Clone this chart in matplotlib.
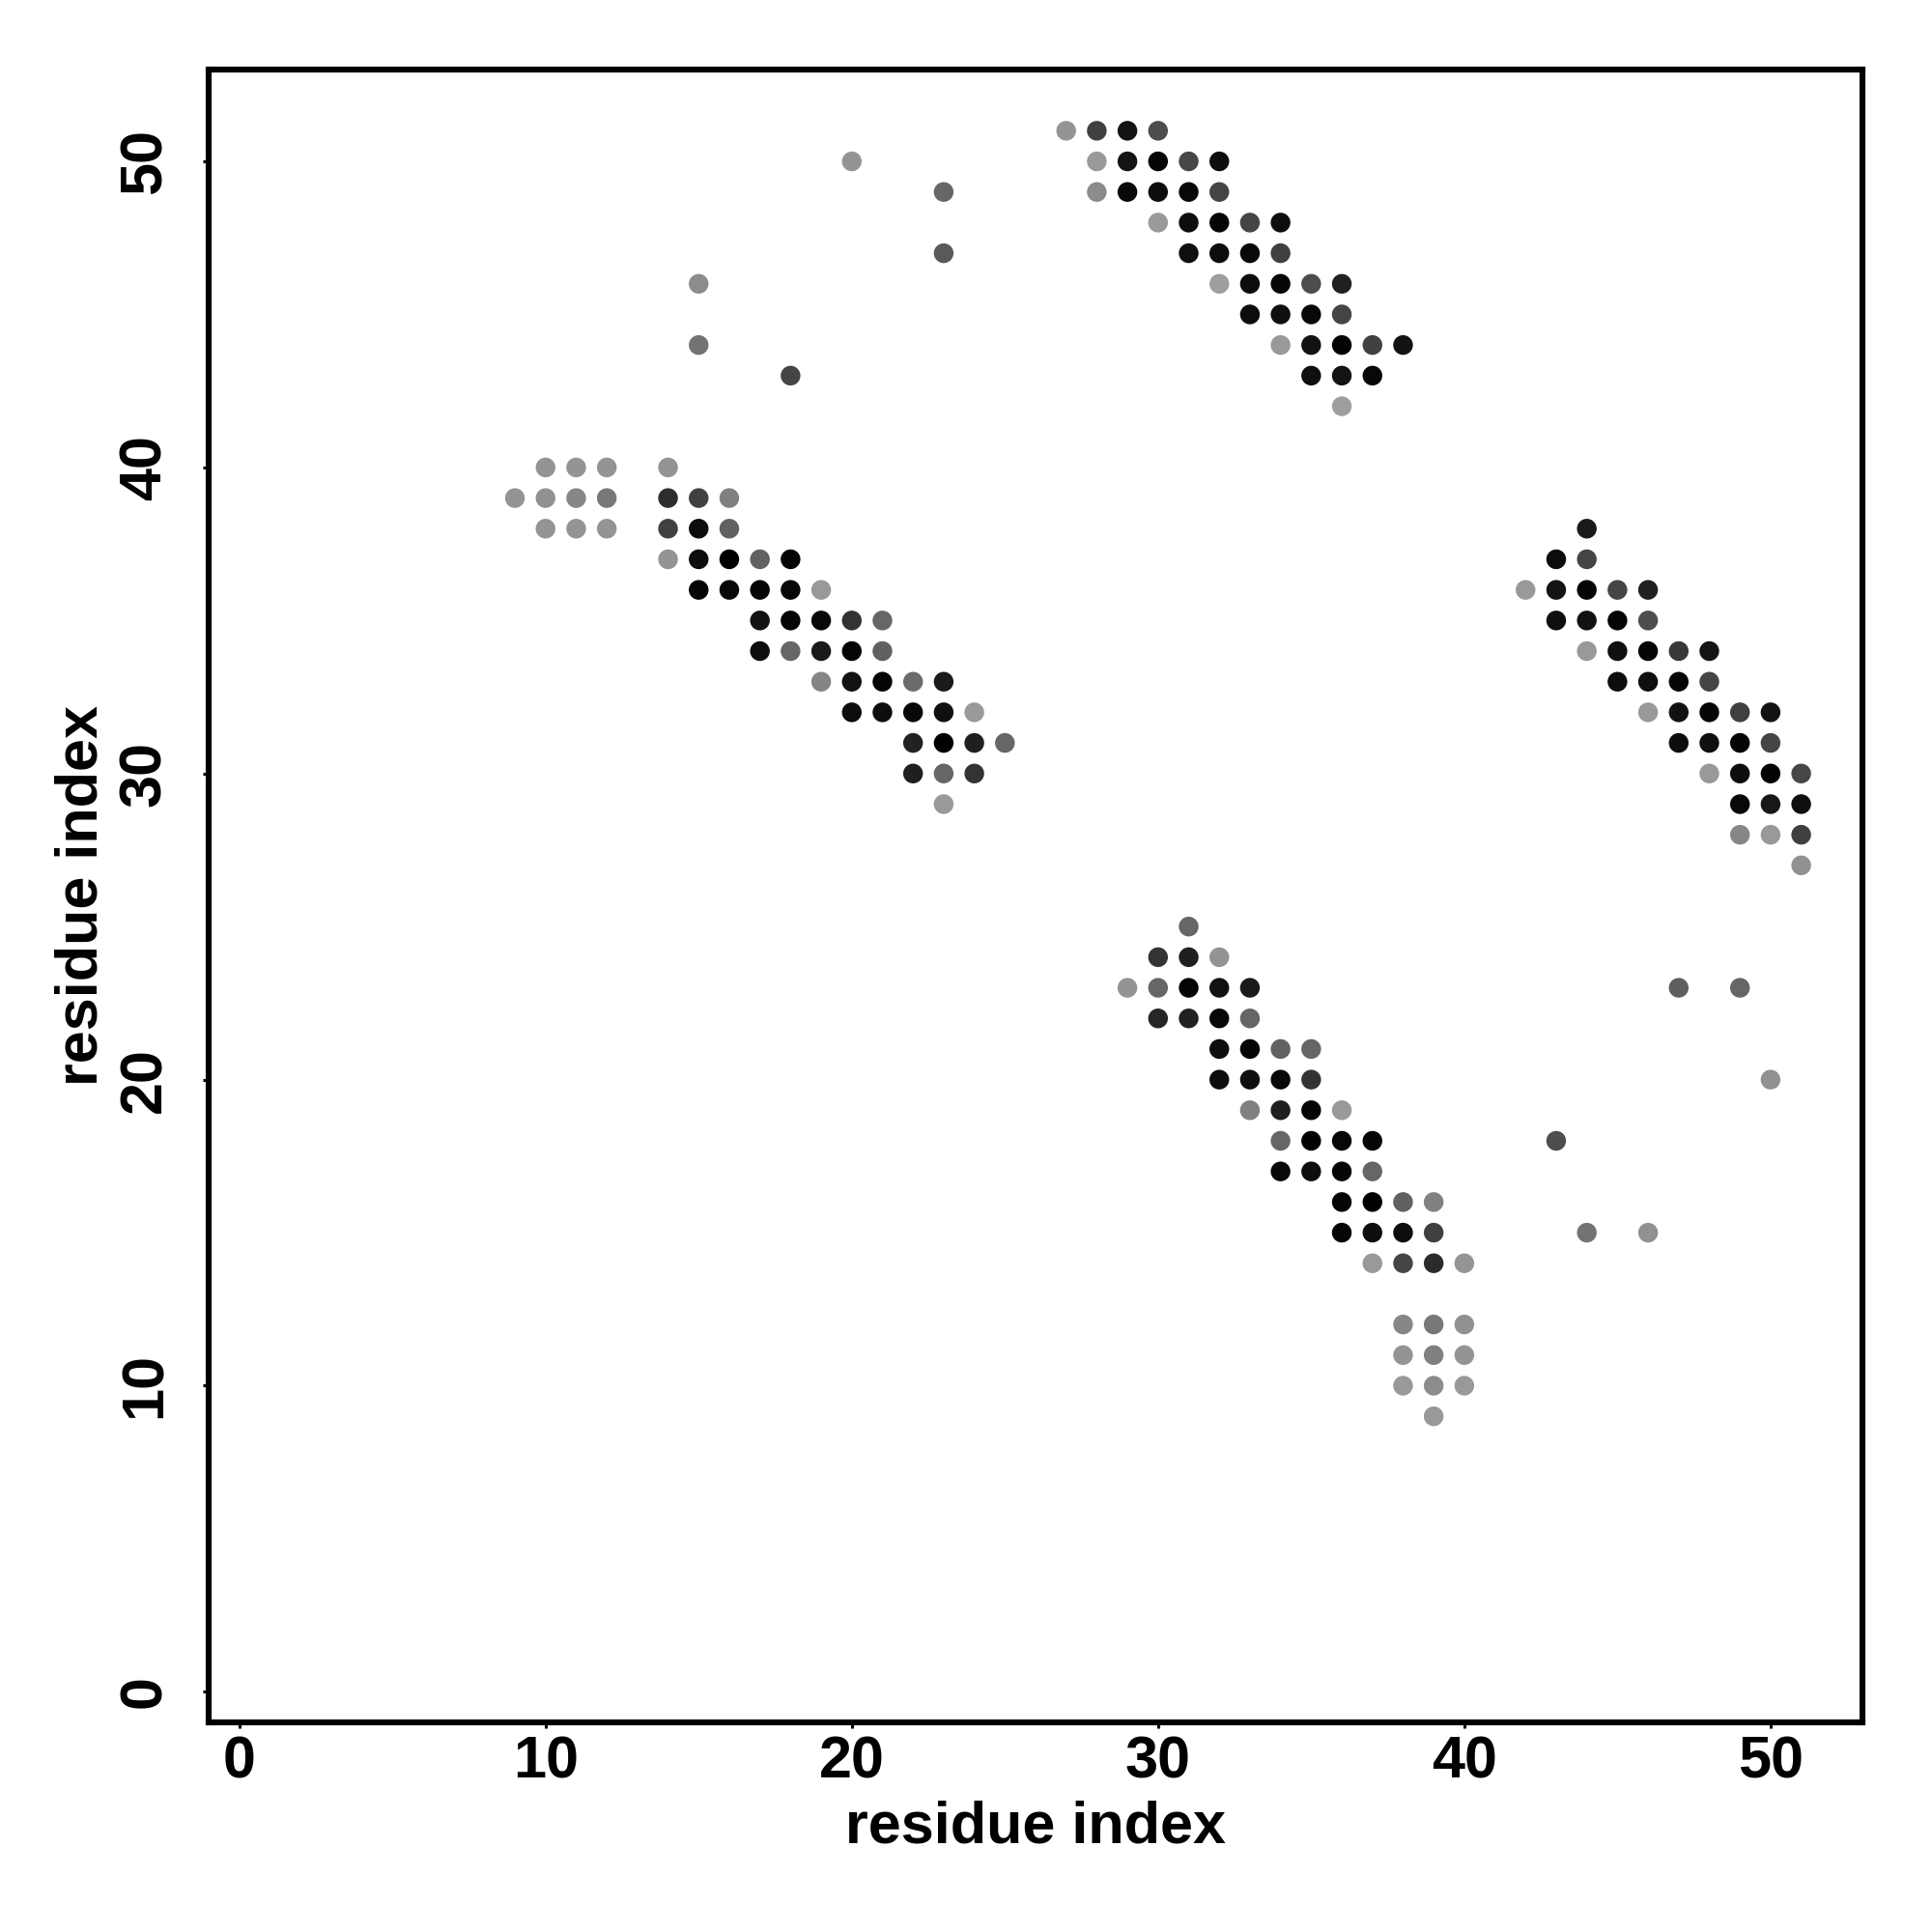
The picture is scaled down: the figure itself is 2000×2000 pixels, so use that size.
#!/usr/bin/env python3
"""Contact map: residue index vs residue index, gray level = contact strength."""
import numpy as np
import matplotlib
matplotlib.use("Agg")
import matplotlib.pyplot as plt

# gray shade per contact: 0 = black, 1 = white
# band 1 (residues 9-25 vs 29-40)
band1_x = [10, 11, 12, 14,
           9, 10, 11, 12, 14, 15, 16,
           10, 11, 12, 14, 15, 16,
           14, 15, 16, 17, 18,
           15, 16, 17, 18, 19,
           17, 18, 19, 20, 21,
           17, 18, 19, 20, 21,
           19, 20, 21, 22, 23,
           20, 21, 22, 23, 24,
           22, 23, 24, 25,
           22, 23, 24,
           23]
band1_y = [40, 40, 40, 40,
           39, 39, 39, 39, 39, 39, 39,
           38, 38, 38, 38, 38, 38,
           37, 37, 37, 37, 37,
           36, 36, 36, 36, 36,
           35, 35, 35, 35, 35,
           34, 34, 34, 34, 34,
           33, 33, 33, 33, 33,
           32, 32, 32, 32, 32,
           31, 31, 31, 31,
           30, 30, 30,
           29]
band1_g = [.58, .58, .58, .58,
           .58, .57, .53, .47, .18, .25, .50,
           .58, .58, .58, .25, .05, .38,
           .58, .05, .00, .38, .02,
           .02, .03, .02, .03, .60,
           .07, .02, .03, .20, .40,
           .05, .40, .10, .02, .38,
           .52, .07, .02, .42, .10,
           .05, .05, .03, .06, .60,
           .13, .00, .12, .40,
           .12, .40, .20,
           .60]

# band 2 (residues 27-38 vs 42-51)
band2_x = [27, 28, 29, 30,
           28, 29, 30, 31, 32,
           28, 29, 30, 31, 32,
           30, 31, 32, 33, 34,
           31, 32, 33, 34,
           32, 33, 34, 35, 36,
           33, 34, 35, 36,
           34, 35, 36, 37, 38,
           35, 36, 37,
           36]
band2_y = [51, 51, 51, 51,
           50, 50, 50, 50, 50,
           49, 49, 49, 49, 49,
           48, 48, 48, 48, 48,
           47, 47, 47, 47,
           46, 46, 46, 46, 46,
           45, 45, 45, 45,
           44, 44, 44, 44, 44,
           43, 43, 43,
           42]
band2_g = [.58, .25, .08, .30,
           .60, .08, .02, .28, .05,
           .55, .03, .05, .03, .27,
           .60, .05, .02, .27, .05,
           .06, .05, .03, .25,
           .62, .05, .02, .30, .13,
           .05, .06, .03, .27,
           .60, .07, .01, .25, .07,
           .06, .08, .03,
           .62]

# band 3 (residues 42-51 vs 27-38)
band3_x = [44,
           43, 44,
           42, 43, 44, 45, 46,
           43, 44, 45, 46,
           44, 45, 46, 47, 48,
           45, 46, 47, 48,
           46, 47, 48, 49, 50,
           47, 48, 49, 50,
           48, 49, 50, 51,
           49, 50, 51,
           49, 50, 51,
           51]
band3_y = [38,
           37, 37,
           36, 36, 36, 36, 36,
           35, 35, 35, 35,
           34, 34, 34, 34, 34,
           33, 33, 33, 33,
           32, 32, 32, 32, 32,
           31, 31, 31, 31,
           30, 30, 30, 30,
           29, 29, 29,
           28, 28, 28,
           27]
band3_g = [.10,
           .05, .27,
           .60, .08, .02, .27, .13,
           .06, .07, .02, .30,
           .60, .06, .02, .22, .08,
           .05, .06, .02, .27,
           .60, .07, .02, .25, .07,
           .05, .06, .02, .27,
           .60, .05, .01, .28,
           .03, .09, .06,
           .53, .60, .25,
           .57]

# band 4 (residues 29-40 vs 9-25)
band4_x = [31,
           30, 31, 32,
           29, 30, 31, 32, 33,
           30, 31, 32, 33,
           32, 33, 34, 35,
           32, 33, 34, 35,
           33, 34, 35, 36,
           34, 35, 36, 37,
           34, 35, 36, 37,
           36, 37, 38, 39,
           36, 37, 38, 39,
           37, 38, 39, 40,
           38, 39, 40,
           38, 39, 40,
           38, 39, 40,
           39]
band4_y = [25,
           24, 24, 24,
           23, 23, 23, 23, 23,
           22, 22, 22, 22,
           21, 21, 21, 21,
           20, 20, 20, 20,
           19, 19, 19, 19,
           18, 18, 18, 18,
           17, 17, 17, 17,
           16, 16, 16, 16,
           15, 15, 15, 15,
           14, 14, 14, 14,
           12, 12, 12,
           11, 11, 11,
           10, 10, 10,
           9]
band4_g = [.40,
           .20, .12, .58,
           .58, .40, .02, .07, .10,
           .15, .13, .03, .40,
           .05, .02, .38, .40,
           .05, .06, .03, .20,
           .50, .12, .02, .60,
           .40, .00, .03, .02,
           .03, .05, .02, .40,
           .02, .00, .38, .50,
           .02, .05, .05, .25,
           .60, .27, .17, .58,
           .53, .47, .57,
           .58, .50, .58,
           .60, .55, .60,
           .60]

# isolated contacts
lone_x = [20, 23, 23, 15, 15, 18, 47, 49, 50, 43, 44, 46]
lone_y = [50, 49, 47, 46, 44, 43, 23, 23, 20, 18, 15, 15]
lone_g = [.58, .40, .35, .55, .45, .27, .37, .40, .57, .30, .45, .57]


def main():
    plt.rcParams["font.family"] = ["Liberation Sans", "DejaVu Sans"]
    plt.rcParams["font.weight"] = "bold"

    fig = plt.figure(figsize=(10, 10), dpi=200)
    ax = fig.add_axes([0.108, 0.1085, 0.856, 0.8555])

    xs = np.array(band1_x + band2_x + band3_x + band4_x + lone_x)
    ys = np.array(band1_y + band2_y + band3_y + band4_y + lone_y)
    gs = np.array(band1_g + band2_g + band3_g + band4_g + lone_g)
    cols = [(g, g, g) for g in gs]
    ax.scatter(xs, ys, s=54, c=cols, linewidths=0, zorder=2)

    ax.set_xlim(-1, 53)
    ax.set_ylim(-1, 53)
    ticks = [0, 10, 20, 30, 40, 50]
    ax.set_xticks(ticks)
    ax.set_yticks(ticks)
    for sp in ax.spines.values():
        sp.set_linewidth(2.2)
    ax.tick_params(axis="both", length=2.2, width=1.1, labelsize=22)
    ax.tick_params(axis="x", pad=2.5)
    ax.tick_params(axis="y", pad=11)
    for lab in ax.get_yticklabels():
        lab.set_rotation(90)
        lab.set_va("center")
    for lab in ax.get_xticklabels() + ax.get_yticklabels():
        lab.set_fontweight("bold")

    ax.set_xlabel("residue index", fontsize=22, fontweight="bold", va="center")
    ax.set_ylabel("residue index", fontsize=22, fontweight="bold", va="center")
    ax.xaxis.set_label_coords(0.5, -0.0637)
    ax.yaxis.set_label_coords(-0.0765, 0.5)

    fig.savefig("out.png", dpi=200)


if __name__ == "__main__":
    main()
